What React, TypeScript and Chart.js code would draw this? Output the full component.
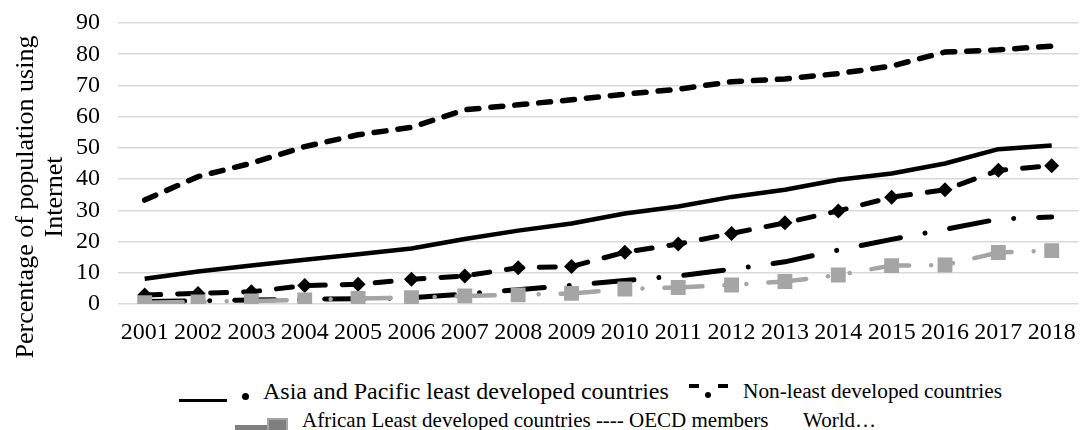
import React, { useEffect, useRef } from 'react';
import { Chart, registerables } from 'chart.js';

Chart.register(...registerables);

const years = ['2001', '2002', '2003', '2004', '2005', '2006', '2007', '2008', '2009', '2010', '2011', '2012', '2013', '2014', '2015', '2016', '2017', '2018'];
const oecdMembers = [33.3, 40.8, 45.1, 50.4, 54.2, 56.6, 62.2, 63.8, 65.4, 67.2, 68.8, 71.2, 72.1, 73.8, 76.2, 80.7, 81.4, 82.6];
const world = [8.1, 10.4, 12.3, 14.2, 15.9, 17.8, 20.8, 23.5, 25.8, 29.0, 31.2, 34.3, 36.6, 39.8, 41.8, 45.0, 49.6, 50.8];
const nonLeastDeveloped = [2.9, 3.4, 3.9, 5.9, 6.3, 7.9, 9.0, 11.6, 12.0, 16.6, 19.2, 22.6, 26.0, 29.8, 34.2, 36.6, 42.8, 44.3];
const asiaPacificLdc = [0.8, 1.0, 1.3, 1.5, 1.7, 2.0, 3.2, 4.6, 6.0, 7.5, 9.0, 11.1, 13.5, 17.3, 20.7, 23.9, 27.2, 27.9];
const africanLdc = [0.4, 0.7, 1.0, 1.3, 1.8, 2.0, 2.6, 2.9, 3.4, 4.8, 5.3, 6.1, 7.2, 9.3, 12.3, 12.5, 16.5, 17.1];
const yMin = 0;
const yMax = 90;
const yStep = 10;
const yTitleLines = ['Percentage of population using', 'Internet'];
const legendRow1 = ['Asia and Pacific least developed countries', 'Non-least developed countries'];
const legendRow2 = ['African Least developed countries ---- OECD members', 'World\u2026'];

const FONT = "'Liberation Serif', 'Times New Roman', serif";
Chart.defaults.font.family = FONT;

const yTitlePlugin = {
  id: 'yTitlePlugin',
  afterDraw(chart: any) {
    const ctx = chart.ctx;
    const cy = 197;
    const xs = [33, 62];
    yTitleLines.forEach((line, i) => {
      ctx.save();
      ctx.fillStyle = '#000';
      ctx.font = `26px ${FONT}`;
      ctx.textAlign = 'center';
      ctx.textBaseline = 'alphabetic';
      ctx.translate(xs[i], cy);
      ctx.rotate(-Math.PI / 2);
      ctx.fillText(line, 0, 0);
      ctx.restore();
    });
  },
};

export default function App() {
  const ref = useRef<HTMLCanvasElement | null>(null);

  useEffect(() => {
    if (!ref.current) return;
    const chart = new Chart(ref.current, {
      type: 'line',
      data: {
        labels: years,
        datasets: [
          {
            label: 'OECD members',
            data: oecdMembers,
            borderColor: '#000',
            borderWidth: 5.5,
            borderDash: [12, 12],
            borderCapStyle: 'round',
            pointRadius: 0,
            tension: 0,
            order: 5,
          },
          {
            label: 'World',
            data: world,
            borderColor: '#000',
            borderWidth: 4.5,
            borderJoinStyle: 'round',
            pointRadius: 0,
            tension: 0,
            order: 4,
          },
          {
            label: 'Non-least developed countries',
            data: nonLeastDeveloped,
            borderColor: '#000',
            borderWidth: 5,
            borderDash: [16, 17],
            borderCapStyle: 'round',
            pointStyle: 'rectRot',
            pointRadius: 7.5,
            pointBackgroundColor: '#000',
            pointBorderColor: '#000',
            pointBorderWidth: 0,
            tension: 0,
            order: 3,
          },
          {
            label: 'Asia and Pacific least developed countries',
            data: asiaPacificLdc,
            borderColor: '#000',
            borderWidth: 5,
            borderDash: [40, 25, 0.01, 25],
            borderCapStyle: 'round',
            pointRadius: 0,
            tension: 0,
            order: 2,
          },
          {
            label: 'African Least developed countries',
            data: africanLdc,
            borderColor: '#a5a5a5',
            borderWidth: 4.5,
            borderDash: [38, 22, 0.01, 22, 0.01, 22],
            borderCapStyle: 'round',
            pointStyle: 'rect',
            pointRadius: 10.5,
            pointBackgroundColor: '#a5a5a5',
            pointBorderColor: '#a5a5a5',
            pointBorderWidth: 0,
            tension: 0,
            order: 1,
          },
        ],
      },
      options: {
        animation: false,
        responsive: false,
        devicePixelRatio: 1,
        layout: { padding: { top: 23, left: 0, right: 0, bottom: 0 } },
        plugins: {
          legend: { display: false },
          tooltip: { enabled: false },
        },
        scales: {
          x: {
            type: 'category',
            offset: true,
            grid: { display: false, drawTicks: false },
            border: { display: false },
            ticks: {
              color: '#000',
              font: { family: FONT, size: 24 },
              padding: 14,
              maxRotation: 0,
              autoSkip: false,
            },
            afterFit(scale: any) {
              scale.height = 66;
            },
          },
          y: {
            min: yMin,
            max: yMax,
            grid: { color: '#d9d9d9', lineWidth: 1.5, drawTicks: false },
            border: { display: false },
            ticks: {
              stepSize: yStep,
              autoSkip: false,
              color: '#000',
              font: { family: FONT, size: 24, lineHeight: 0.4 },
              padding: 18,
            },
            afterFit(scale: any) {
              scale.width = 118;
            },
          },
        },
      },
      plugins: [yTitlePlugin],
    });
    return () => chart.destroy();
  }, []);

  const text = (size: number): React.CSSProperties => ({
    position: 'absolute',
    fontFamily: FONT,
    fontSize: size,
    lineHeight: 1,
    color: '#000',
    whiteSpace: 'nowrap',
  });

  return (
    <div style={{ position: 'absolute', left: 0, top: 0, width: 1090, height: 430, overflow: 'hidden', background: '#fff' }}>
      <canvas ref={ref} width={1090} height={370} style={{ position: 'absolute', left: 0, top: 0, width: 1090, height: 370 }} />
      {/* legend row 1 */}
      <div style={{ position: 'absolute', left: 179, top: 399, width: 48, height: 3, background: '#000' }} />
      <div style={{ position: 'absolute', left: 241.5, top: 392.5, width: 7, height: 7, borderRadius: '50%', background: '#000' }} />
      <span style={{ ...text(24), left: 263, top: 379 }}>{legendRow1[0]}</span>
      <div style={{ position: 'absolute', left: 689, top: 384, width: 10, height: 4, background: '#000' }} />
      <div style={{ position: 'absolute', left: 705, top: 391.5, width: 6, height: 6, borderRadius: '50%', background: '#000' }} />
      <div style={{ position: 'absolute', left: 718, top: 384, width: 10, height: 4, background: '#000' }} />
      <span style={{ ...text(21.3), left: 743, top: 381 }}>{legendRow1[1]}</span>
      {/* legend row 2 */}
      <div style={{ position: 'absolute', left: 235, top: 425, width: 33, height: 5, background: '#7f7f7f' }} />
      <div style={{ position: 'absolute', left: 267, top: 418, width: 17, height: 10, background: '#7f7f7f', border: '2px solid #a5a5a5' }} />
      <span style={{ ...text(21), left: 302, top: 410 }}>{legendRow2[0]}</span>
      <span style={{ ...text(21), left: 803, top: 410 }}>{legendRow2[1]}</span>
    </div>
  );
}
